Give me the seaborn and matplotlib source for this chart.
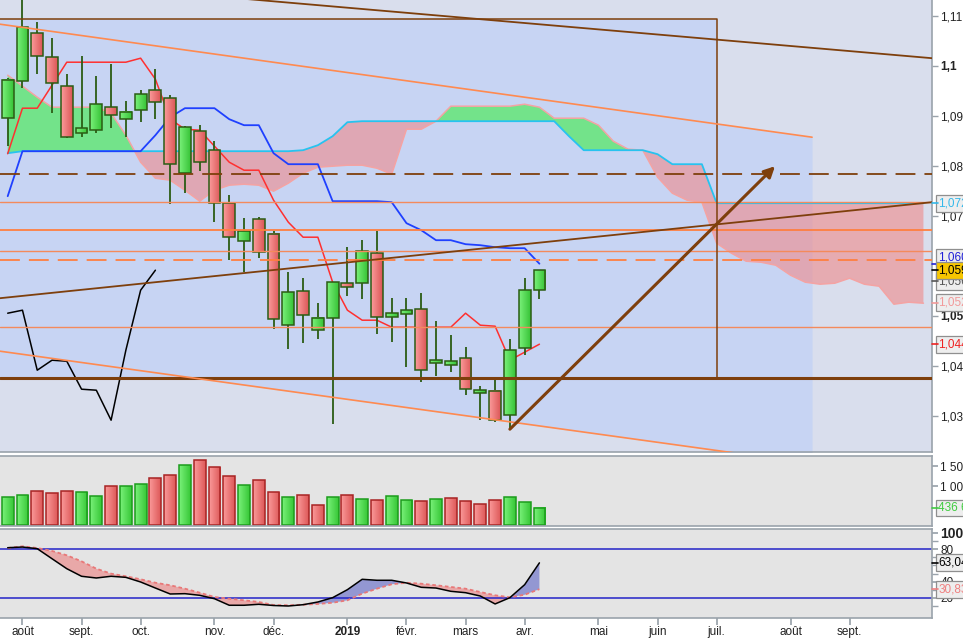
import numpy as np
import matplotlib
matplotlib.use('Agg')
import matplotlib.pyplot as plt
import matplotlib.colors as mcolors
import matplotlib.transforms as mtrans
from matplotlib.patches import Rectangle
import seaborn as sns

# Weekly candles, week of 30 Jul 2018 (index 0) to week of 8 Apr 2019 (index 36)
opens = [1.0895, 1.0969, 1.1065, 1.1017, 1.0959, 1.0865, 1.0871, 1.0917, 1.0893, 1.0911,
         1.0951, 1.0935, 1.0785, 1.0869, 1.0831, 1.0725, 1.0649, 1.0693, 1.0663, 1.0481,
         1.0549, 1.0471, 1.0495, 1.0565, 1.0565, 1.0625, 1.0497, 1.0503, 1.0513, 1.0405,
         1.0401, 1.0415, 1.0345, 1.0349, 1.0301, 1.0435, 1.0551]
highs = [1.0975, 1.1135, 1.1087, 1.1055, 1.0983, 1.1019, 1.0979, 1.1003, 1.0929, 1.0951,
         1.0993, 1.0941, 1.0879, 1.0881, 1.0849, 1.0741, 1.0695, 1.0697, 1.0669, 1.0587,
         1.0575, 1.0525, 1.0567, 1.0637, 1.0651, 1.0669, 1.0535, 1.0535, 1.0545, 1.0489,
         1.0461, 1.0437, 1.0359, 1.0371, 1.0453, 1.0575, 1.0587]
lows = [1.0839, 1.0955, 1.0983, 1.0905, 1.0855, 1.0857, 1.0865, 1.0875, 1.0857, 1.0887,
        1.0893, 1.0723, 1.0745, 1.0789, 1.0687, 1.0611, 1.0587, 1.0615, 1.0473, 1.0433,
        1.0445, 1.0453, 1.0283, 1.0539, 1.0533, 1.0463, 1.0447, 1.0397, 1.0367, 1.0379,
        1.0387, 1.0341, 1.0291, 1.0287, 1.0273, 1.0421, 1.0533]
closes = [1.0971, 1.1077, 1.1019, 1.0965, 1.0857, 1.0875, 1.0923, 1.0901, 1.0907, 1.0943,
          1.0927, 1.0803, 1.0877, 1.0807, 1.0725, 1.0657, 1.0669, 1.0627, 1.0493, 1.0547,
          1.0501, 1.0495, 1.0567, 1.0557, 1.0629, 1.0497, 1.0505, 1.0511, 1.0391, 1.0411,
          1.0409, 1.0353, 1.0351, 1.0291, 1.0431, 1.0551, 1.0591]
volume = [710, 761, 864, 812, 864, 838, 735, 992, 992, 1043,
          1197, 1274, 1530, 1659, 1479, 1249, 1018, 1146, 838, 710,
          761, 505, 710, 761, 659, 633, 735, 633, 607, 659,
          684, 607, 530, 633, 710, 582, 437]

# Ichimoku
tenkan = [1.0824, 1.0915, 1.0915, 1.0961, 1.1007, 1.1007, 1.1007, 1.1007, 1.1007, 1.1015,
          1.0973, 1.0893, 1.0873, 1.0871, 1.0839, 1.0807, 1.0791, 1.0791, 1.0731, 1.0687,
          1.0657, 1.0657, 1.0567, 1.0511, 1.0491, 1.0491, 1.0477, 1.0477, 1.0477, 1.0477,
          1.0477, 1.0505, 1.0481, 1.0479, 1.0411, 1.0427, 1.0443]
kijun = [1.0739, 1.0829, 1.0829, 1.0829, 1.0829, 1.0829, 1.0829, 1.0829, 1.0829, 1.0829,
         1.0861, 1.0897, 1.0915, 1.0915, 1.0915, 1.0893, 1.0881, 1.0881, 1.0825, 1.0803,
         1.0803, 1.0803, 1.0729, 1.0729, 1.0729, 1.0729, 1.0727, 1.0685, 1.0671, 1.0651,
         1.0651, 1.0643, 1.0641, 1.0637, 1.0635, 1.0635, 1.0604]
# cloud spans run 26 weeks past the last candle (index 0..62)
span_cyan = [1.0825, 1.0829, 1.0829, 1.0829, 1.0829, 1.0829, 1.0829, 1.0829, 1.0829, 1.0829,
             1.0829, 1.0829, 1.0829, 1.0829, 1.0829, 1.0829, 1.0829, 1.0829, 1.0829, 1.0829,
             1.0831, 1.0841, 1.0859, 1.0887, 1.0889, 1.0889, 1.0889, 1.0889, 1.0889, 1.0889,
             1.0889, 1.0889, 1.0889, 1.0889, 1.0889, 1.0889, 1.0889, 1.0889, 1.0859, 1.0831,
             1.0831, 1.0831, 1.0831, 1.0831, 1.0823, 1.0803, 1.0803, 1.0803, 1.0725, 1.0725,
             1.0725, 1.0725, 1.0725, 1.0725, 1.0725, 1.0725, 1.0725, 1.0725, 1.0725, 1.0725,
             1.0725, 1.0725, 1.0725]
span_salmon = [1.0981, 1.0959, 1.0937, 1.0917, 1.0917, 1.0917, 1.0917, 1.0905, 1.0861, 1.0807,
               1.0775, 1.0771, 1.0751, 1.0729, 1.0751, 1.0761, 1.0763, 1.0761, 1.0749, 1.0765,
               1.0785, 1.0797, 1.0799, 1.0801, 1.0801, 1.0795, 1.0783, 1.0873, 1.0873, 1.0889,
               1.0919, 1.0919, 1.0919, 1.0919, 1.0919, 1.0923, 1.0917, 1.0895, 1.0895, 1.0895,
               1.0881, 1.0849, 1.0833, 1.0831, 1.0777, 1.0745, 1.0731, 1.0727, 1.0645, 1.0625,
               1.0609, 1.0607, 1.0601, 1.0581, 1.0567, 1.0563, 1.0565, 1.0575, 1.0563, 1.0559,
               1.0523, 1.0527, 1.0525]

# Stochastic
stoch_k = [81.6, 82.4, 80.4, 68.1, 55.9, 46.6, 44.5, 46.6, 45.3, 39.6,
           32.2, 24.9, 25.3, 23.3, 19.1, 11.1, 11.1, 12.3, 10.8, 10.2,
           11.8, 15.1, 20.4, 30.2, 42.9, 41.7, 41.7, 38.4, 33.1, 32.2,
           28.2, 26.5, 22.4, 12.7, 20.4, 36.3, 63.04]
stoch_d = [81.2, 83.3, 81.2, 77.6, 72.3, 64.9, 55.9, 49.8, 46.6, 42.9,
           38.7, 35.6, 31.4, 26.5, 21.2, 19.1, 17.2, 15.1, 11.4, 11.1,
           11.8, 12.7, 14.2, 17.2, 25.3, 31.4, 36.8, 38.7, 37.5, 35.6,
           33.5, 31.4, 27.3, 23.3, 20.9, 24.0, 30.83]

# drawings (week index, price)
chan_x = [-0.52, 54.46]
chan_top = [1.1083, 1.0857]
chan_bot = [1.0429, 1.0204]
res_x = [-0.52, 62.58]
res_p = [1.1176, 1.1015]
sup_x = [-0.52, 62.58]
sup_p = [1.0535, 1.0727]
arrow_x = [34.0, 51.95]
arrow_p = [1.0273, 1.0799]
box_x = [-0.6, 48.0]
box_p = [1.0376, 1.1093]
lvl_brown_dash = 1.0784
lvl_orange_thin = [1.0728, 1.0629, 1.0478]
lvl_orange = 1.0671
lvl_orange_dash = 1.0611
lvl_brown = 1.0376

month_pos = [1, 5, 9, 14, 18, 23, 27, 31, 35, 40, 44, 48, 53, 57]
month_lbl = ['août', 'sept.', 'oct.', 'nov.', 'déc.', '2019', 'févr.', 'mars', 'avr.',
             'mai', 'juin', 'juil.', 'août', 'sept.']
price_ticks = [1.03, 1.04, 1.05, 1.07, 1.08, 1.09, 1.10, 1.11]
price_lbls = ['1,03', '1,04', '1,05', '1,07', '1,08', '1,09', '1,1', '1,11']

sns.set_theme(style='white')
plt.rcParams['font.family'] = ['Liberation Sans', 'DejaVu Sans']

BROWN = '#7e3f0c'
ORANGE = '#ff7f40'
WICK = '#2b5c14'
GRID = '#9aa3ab'

W, H = 963, 639
fig = plt.figure(figsize=(W / 100, H / 100), dpi=100, facecolor='white')


def place(x0, y0, x1, y1):
    return [x0 / W, 1 - y1 / H, (x1 - x0) / W, (y1 - y0) / H]


ax = fig.add_axes(place(0, 0, 932, 452))
axv = fig.add_axes(place(0, 456, 932, 526), sharex=ax)
axs = fig.add_axes(place(0, 529, 932, 618), sharex=ax)

n = len(closes)
x = np.arange(n)
xf = np.arange(len(span_cyan))


def grad_bar(a, x0, x1, y0, y1, c1, c2, edge, z):
    g = np.linspace(0, 1, 12)[None, :, None]
    img = np.array(mcolors.to_rgb(c1)) * (1 - g) + np.array(mcolors.to_rgb(c2)) * g
    a.imshow(img, extent=[x0, x1, y0, y1], aspect='auto', origin='lower',
             interpolation='bilinear', zorder=z)
    a.add_patch(Rectangle((x0, y0), x1 - x0, y1 - y0, fill=False, ec=edge, lw=1.1, zorder=z + 0.01))


# ---- main panel
ax.set_facecolor('#d9deed')
shade = '#c7d4f3'
ax.fill_between(chan_x, chan_bot, chan_top, color=shade, lw=0, zorder=0.5)
ax.add_patch(Rectangle((box_x[0], box_p[0]), box_x[1] - box_x[0], box_p[1] - box_p[0],
                       fc=shade, ec='none', zorder=0.5))

sa = np.array(span_cyan)
sb = np.array(span_salmon)
ax.fill_between(xf, sa, sb, where=sb >= sa, interpolate=True, color='#5ee870', alpha=0.8, lw=0, zorder=1)
ax.fill_between(xf, sa, sb, where=sb < sa, interpolate=True, color='#f08a8a', alpha=0.6, lw=0, zorder=1)
sns.lineplot(x=xf, y=span_salmon, ax=ax, color='#f4a3a3', lw=1.1, zorder=1.2)
sns.lineplot(x=xf, y=span_cyan, ax=ax, color='#27c3ef', lw=1.3, zorder=1.3)

sns.lineplot(x=x, y=tenkan, ax=ax, color='#ff3030', lw=1.1, zorder=2)
sns.lineplot(x=x, y=kijun, ax=ax, color='#1f40ff', lw=1.3, zorder=2)
sns.lineplot(x=x[:n - 26], y=closes[26:], ax=ax, color='black', lw=1.1, zorder=2)

for i in range(n):
    o, c = opens[i], closes[i]
    ax.vlines(i, lows[i], highs[i], color=WICK, lw=1.3, zorder=3)
    lo, hi = min(o, c), max(o, c)
    if c >= o:
        grad_bar(ax, i - 0.4, i + 0.4, lo, hi, '#78f078', '#38c438', WICK, 3.1)
    else:
        grad_bar(ax, i - 0.4, i + 0.4, lo, hi, '#fa9a9a', '#dc5858', WICK, 3.1)

# horizontal levels and trend lines
ax.axhline(lvl_brown_dash, color=BROWN, lw=1.3, ls=(0, (11, 5)), zorder=4)
for lv in lvl_orange_thin:
    ax.axhline(lv, color='#f48a5c', lw=1.0, zorder=4)
ax.axhline(lvl_orange, color=ORANGE, lw=1.3, zorder=4)
ax.axhline(lvl_orange_dash, color=ORANGE, lw=1.3, ls=(0, (11, 5)), zorder=4)
ax.axhline(lvl_brown, color=BROWN, lw=2.2, zorder=4)
ax.plot([box_x[0], box_x[1], box_x[1]], [box_p[1], box_p[1], box_p[0]], color=BROWN, lw=1.1, zorder=4)
ax.plot(chan_x, chan_top, color='#ff8a50', lw=1.2, zorder=4)
ax.plot(chan_x, chan_bot, color='#ff8a50', lw=1.2, zorder=4)
ax.plot(res_x, res_p, color=BROWN, lw=1.3, zorder=4)
ax.plot(sup_x, sup_p, color=BROWN, lw=1.3, zorder=4)
ax.annotate('', xy=(arrow_x[1], arrow_p[1]), xytext=(arrow_x[0], arrow_p[0]),
            arrowprops=dict(arrowstyle='-|>', color=BROWN, lw=2.2, mutation_scale=16,
                            shrinkA=0, shrinkB=0), zorder=5)

ax.set_xlim(-0.5213, 62.58)
ax.set_ylim(1.02274, 1.11314)
ax.yaxis.tick_right()
ax.set_yticks(price_ticks)
ax.set_yticklabels(price_lbls)
for t in ax.get_yticklabels():
    if t.get_text() in ('1,1', '1,05'):
        t.set_fontweight('bold')
ax.tick_params(axis='y', right=True, length=4, width=1, color=GRID, labelsize=8.5, pad=2,
               labelcolor='#222222')
ax.tick_params(axis='x', bottom=False, labelbottom=False)
ax.set_xlabel('')
ax.set_ylabel('')

blend = mtrans.blended_transform_factory(ax.transAxes, ax.transData)


def tag(a, tr, pos, val, txt, tc, fc='#eeeeee', tick_c=None, z=6):
    a.text(1.0065, pos, txt, transform=tr, va='center', ha='left', fontsize=8.5, color=tc,
           clip_on=False, zorder=z,
           bbox=dict(boxstyle='square,pad=0.2', fc=fc, ec='#8f8f8f', lw=0.9))
    a.plot([1.0, 1.006], [val, val], transform=tr, color=tick_c or tc, lw=1.2, clip_on=False, zorder=z)


tag(ax, blend, 1.0725, 1.0725, '1,072', '#33b8ea')
tag(ax, blend, 1.0617, 1.0604, '1,060', '#2020d8')
tag(ax, blend, 1.0569, 1.0569, '1,056', '#555555')
tag(ax, blend, 1.0591, 1.0591, '1,059', 'black', fc='#f7c600', z=7)
tag(ax, blend, 1.0527, 1.0525, '1,052', '#f29a9a')
tag(ax, blend, 1.0443, 1.0443, '1,044', '#ee2222')

# ---- volume panel
axv.set_facecolor('#e4e4e4')
for i in range(n):
    up = True if i == 0 else closes[i] >= closes[i - 1]
    if up:
        grad_bar(axv, i - 0.4, i + 0.4, 0, volume[i], '#78f078', '#38c838', '#1c9c1c', 2)
    else:
        grad_bar(axv, i - 0.4, i + 0.4, 0, volume[i], '#fa9898', '#de5a5a', '#a82424', 2)
axv.set_ylim(-25, 1769)
axv.yaxis.tick_right()
axv.set_yticks([1000, 1500])
axv.set_yticklabels(['1 000', '1 500'])
axv.tick_params(axis='y', right=True, length=4, color=GRID, labelsize=8.5, pad=2, labelcolor='#222222')
axv.tick_params(axis='x', bottom=False, labelbottom=False)
blend_v = mtrans.blended_transform_factory(axv.transAxes, axv.transData)
tag(axv, blend_v, 437, 437, '436 60', '#40cc40')

# ---- stochastic panel
axs.set_facecolor('#e4e4e4')
k = np.array(stoch_k)
d = np.array(stoch_d)
axs.fill_between(x, k, d, where=k >= d, interpolate=True, color='#8a8fd0', alpha=0.9, lw=0, zorder=1)
axs.fill_between(x, k, d, where=k < d, interpolate=True, color='#e9a2a2', alpha=0.9, lw=0, zorder=1)
axs.axhline(80, color='#2424c8', lw=1.1, zorder=2)
axs.axhline(20, color='#2424c8', lw=1.1, zorder=2)
sns.lineplot(x=x, y=stoch_d, ax=axs, color='#e87878', lw=1.3, ls=(0, (2, 1.5)), zorder=3)
sns.lineplot(x=x, y=stoch_k, ax=axs, color='black', lw=1.1, zorder=3)
axs.set_ylim(-4.5, 104.5)
axs.yaxis.tick_right()
axs.set_yticks([20, 40, 80, 100])
axs.set_yticklabels(['20', '40', '80', '100'])
axs.set_yticks([10, 30, 50, 60, 70, 90], minor=True)
axs.tick_params(axis='y', which='both', right=True, length=4, color=GRID, labelsize=8.5, pad=2,
                labelcolor='#222222')
for t in axs.get_yticklabels():
    if t.get_text() == '100':
        t.set_fontweight('bold')
        t.set_fontsize(10)
blend_s = mtrans.blended_transform_factory(axs.transAxes, axs.transData)
tag(axs, blend_s, 63.04, 63.04, '63,04', 'black')
tag(axs, blend_s, 30.83, 30.83, '30,83', '#ee8080')

axs.set_xticks(month_pos)
axs.set_xticklabels(month_lbl)
for t in axs.get_xticklabels():
    if t.get_text() == '2019':
        t.set_fontweight('bold')
        t.set_fontsize(10)
axs.tick_params(axis='x', bottom=True, length=5, color=GRID, labelsize=8.5, pad=1,
                labelcolor='#222222')
axs.set_xlim(-0.5213, 62.58)

for a in (ax, axv, axs):
    a.set_xlabel('')
    a.set_ylabel('')
    a.grid(False)
    for side, sp in a.spines.items():
        sp.set_color(GRID)
        sp.set_linewidth(1.2)
    a.spines['left'].set_visible(False)
ax.spines['top'].set_visible(False)

fig.savefig('out.png', dpi=100, facecolor='white')
